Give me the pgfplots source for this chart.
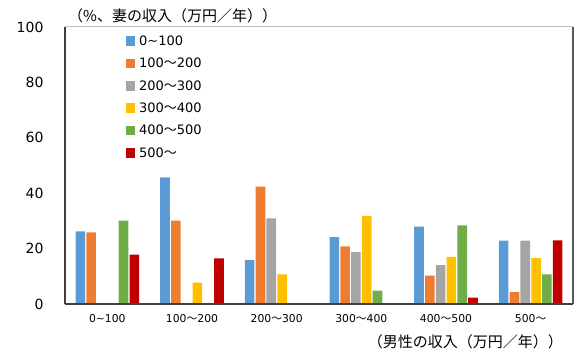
\documentclass[border=0pt]{standalone}
\usepackage{pgfplots}
\pgfplotsset{compat=1.18}
\usepackage{fontspec}
\setmainfont{DejaVu Sans}
\newfontfamily\jp{Noto Sans CJK JP}
\definecolor{c1}{HTML}{5B9BD5}
\definecolor{c2}{HTML}{ED7D31}
\definecolor{c3}{HTML}{A5A5A5}
\definecolor{c4}{HTML}{FFC000}
\definecolor{c5}{HTML}{70AD47}
\definecolor{c6}{HTML}{C00000}
\begin{document}
\begin{tikzpicture}[x=1pt,y=1pt]
\path[use as bounding box] (-65,-54) rectangle (518,304);
\begin{axis}[at={(0,0)}, anchor=south west, scale only axis,
  width=508pt, height=277pt,
  ymin=0, ymax=100, xmin=-0.5, xmax=5.5,
  ytick={0,20,...,100}, xtick={0,...,5},
  xticklabels={0\textasciitilde100, 100{\jp ～}200, 200{\jp ～}300, 300{\jp ～}400, 400{\jp ～}500, 500{\jp ～}},
  ybar=1.2pt, bar width=9.6pt,
  axis on top,
  axis x line*=bottom, axis y line*=left,
  axis line style={draw=black!75, line width=1.3pt},
  major tick length=0pt,
  clip=false,
  /pgf/number format/assume math mode=true,
  yticklabel style={font=\fontsize{14}{14}\selectfont, xshift=-18pt},
  xticklabel style={font=\fontsize{10.8}{10.8}\selectfont, yshift=-7pt},
  legend style={draw=none, fill=none, at={(0.113,0.98)}, anchor=north west,
    font=\fontsize{13}{13}\selectfont, row sep=9.2pt,
    nodes={inner sep=1pt}},
  legend cell align=left,
  legend image code/.code={\fill[#1] (0pt,-4.5pt) rectangle (9.5pt,5pt);},
  every axis plot/.append style={draw=none},
]
\addplot[fill=c1] coordinates {(0,26.2) (1,45.7) (2,15.8) (3,24.1) (4,27.9) (5,22.9)};
\addplot[fill=c2] coordinates {(0,25.9) (1,30.1) (2,42.4) (3,20.8) (4,10.2) (5,4.3)};
\addplot[fill=c3] coordinates {(2,30.9) (3,18.7) (4,14.0) (5,22.9)};
\addplot[fill=c4] coordinates {(1,7.7) (2,10.7) (3,31.8) (4,17.0) (5,16.6)};
\addplot[fill=c5] coordinates {(0,30.1) (3,4.8) (4,28.4) (5,10.7)};
\addplot[fill=c6] coordinates {(0,17.8) (1,16.5) (4,2.3) (5,23.0)};
\legend{\hspace{3pt}0\textasciitilde100, \hspace{3pt}100{\jp ～}200, \hspace{3pt}200{\jp ～}300, \hspace{3pt}300{\jp ～}400, \hspace{3pt}400{\jp ～}500, \hspace{3pt}500{\jp ～}}
\draw[black!25, line width=1pt] (rel axis cs:0,1) -- (rel axis cs:1,1);
\draw[black!65, line width=1.3pt] (rel axis cs:1,1) -- (rel axis cs:1,0);
\node[anchor=west, font=\jp\fontsize{15}{15}\selectfont, inner sep=0pt] at (rel axis cs:0,1) [xshift=3pt, yshift=11pt] {（\%、妻の収入（万円／年））};
\node[anchor=east, font=\jp\fontsize{15}{15}\selectfont, inner sep=0pt] at (rel axis cs:1,0) [xshift=-10pt, yshift=-38pt] {（男性の収入（万円／年））};
\end{axis}
\end{tikzpicture}
\end{document}
